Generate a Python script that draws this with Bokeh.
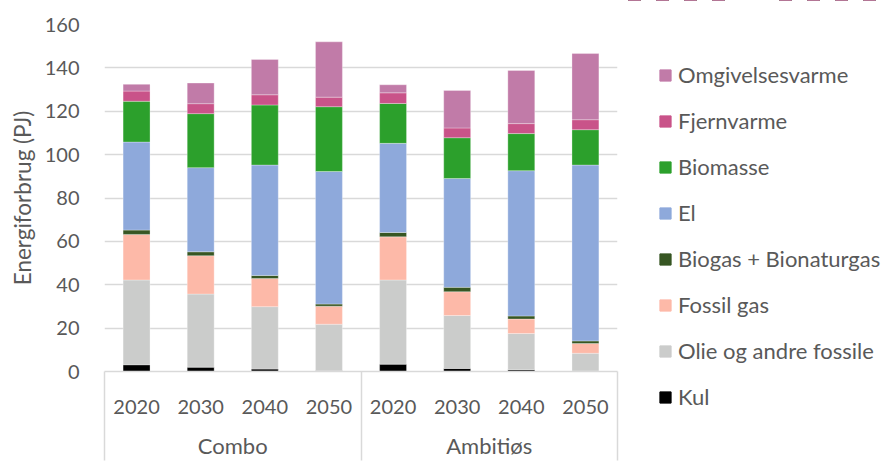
from bokeh.plotting import figure
from bokeh.layouts import row
from bokeh.models import (FactorRange, Range1d, Legend, LegendItem, FixedTicker,
                          ColumnDataSource, LinearAxis)
from bokeh.embed import file_html
from bokeh.resources import INLINE

# Scenarios and years on the category axis
groups = ["Combo", "Ambitiøs"]
years = ["2020", "2030", "2040", "2050"]

# Energy use per carrier (PJ), order: Combo 2020..2050, Ambitiøs 2020..2050
kul = [3.1, 2.0, 1.1, 0.3, 3.4, 1.4, 0.8, 0.2]
olie = [39.1, 33.7, 28.8, 21.5, 38.8, 24.4, 16.7, 8.2]
fossil_gas = [21.0, 17.7, 13.0, 8.3, 19.9, 11.0, 6.7, 4.5]
biogas = [2.0, 1.8, 1.4, 1.0, 2.0, 2.0, 1.4, 1.2]
el = [40.6, 38.8, 50.9, 61.1, 41.1, 50.2, 67.0, 81.1]
biomasse = [18.8, 24.9, 27.7, 29.9, 18.4, 18.8, 17.1, 16.3]
fjernvarme = [4.7, 4.6, 4.7, 4.4, 4.9, 4.5, 4.6, 4.6]
omgivelsesvarme = [3.1, 9.5, 16.3, 25.5, 3.7, 17.3, 24.5, 30.5]

series_names = ["Kul", "Olie og andre fossile", "Fossil gas", "Biogas + Bionaturgas",
                "El", "Biomasse", "Fjernvarme", "Omgivelsesvarme"]
series_values = [kul, olie, fossil_gas, biogas, el, biomasse, fjernvarme, omgivelsesvarme]
colors = ["#000000", "#CBCCCB", "#FDB9A8", "#375623",
          "#8EA9DB", "#2CA02C", "#C95389", "#C17BA8"]

y_ticks = [0, 20, 40, 60, 80, 100, 120, 140, 160]

FONT = "Lato"
TEXT = "#595959"
GRID = "#D9D9D9"

factors = [(g, y) for g in groups for y in years]
n_slots = len(factors)
n_years = len(years)

# one unit-wide slot per (scenario, year); bars sit in the slot centres
centers = [i + 0.5 for i in range(n_slots)]
group_centers = [k * n_years + n_years / 2 for k in range(len(groups))]
borders = [k * n_years for k in range(len(groups) + 1)]

keys = [f"s{i}" for i in range(len(series_names))]
data = {"x": centers, "cat": factors}
for k, v in zip(keys, series_values):
    data[k] = v
source = ColumnDataSource(data)

# ---- stacked bar chart ----
p = figure(
    width=620, height=461,
    x_range=Range1d(0, n_slots),
    y_range=(0, 160),
    x_axis_location=None,
    output_backend="svg", toolbar_location=None,
    min_border_left=104, min_border_right=3, min_border_top=24, min_border_bottom=89,
    outline_line_color=None,
)

p.vbar_stack(keys, x="x", width=0.42, source=source, color=colors,
             line_color="white", line_width=0.6, line_alpha=0.5)

# y axis
p.yaxis.ticker = FixedTicker(ticks=y_ticks)
p.yaxis.axis_line_color = None
p.yaxis.major_tick_line_color = None
p.yaxis.minor_tick_line_color = None
p.yaxis.major_label_text_font = FONT
p.yaxis.major_label_text_font_size = "20px"
p.yaxis.major_label_text_color = TEXT
p.yaxis.major_label_standoff = 19
p.yaxis.axis_label = "Energiforbrug (PJ)"
p.yaxis.axis_label_text_font = FONT
p.yaxis.axis_label_text_font_size = "22.5px"
p.yaxis.axis_label_text_font_style = "normal"
p.yaxis.axis_label_text_color = TEXT
p.yaxis.axis_label_standoff = 6

p.ygrid.grid_line_color = GRID
p.ygrid.grid_line_width = 1.5
p.xgrid.grid_line_color = None

# year labels under each bar; scenario borders drawn as long minor ticks
# (negative tick_in points them outward without enlarging the axis panel)
year_axis = LinearAxis(
    ticker=FixedTicker(ticks=centers, minor_ticks=borders),
    major_label_overrides={c: f[1] for c, f in zip(centers, factors)},
)
year_axis.axis_line_color = GRID
year_axis.axis_line_width = 1.5
year_axis.major_tick_line_color = None
year_axis.major_tick_out = 0
year_axis.major_tick_in = 0
year_axis.minor_tick_line_color = GRID
year_axis.minor_tick_line_width = 1.5
year_axis.minor_tick_out = 0
year_axis.minor_tick_in = -89
year_axis.major_label_text_font = FONT
year_axis.major_label_text_font_size = "20px"
year_axis.major_label_text_color = TEXT
year_axis.major_label_standoff = 28
p.add_layout(year_axis, "below")

# scenario names centred under their four years
group_axis = LinearAxis(
    ticker=FixedTicker(ticks=group_centers, minor_ticks=[]),
    major_label_overrides={c: g for c, g in zip(group_centers, groups)},
)
group_axis.axis_line_color = None
group_axis.major_tick_line_color = None
group_axis.minor_tick_line_color = None
group_axis.major_tick_out = 0
group_axis.major_tick_in = 0
group_axis.major_label_text_font = FONT
group_axis.major_label_text_font_size = "22px"
group_axis.major_label_text_color = TEXT
group_axis.major_label_standoff = 15
p.add_layout(group_axis, "below")

# ---- legend panel beside the chart ----
lg = figure(width=263, height=461, output_backend="svg", toolbar_location=None,
            x_range=FactorRange(*factors), y_range=Range1d(-2, -1),
            x_axis_location=None, y_axis_location=None,
            min_border=0, outline_line_color=None)
lg.grid.grid_line_color = None
swatches = lg.vbar_stack(keys, x="cat", width=0.42, source=source, color=colors)

# let the legend panel use its full height instead of the chart's frame
if "frame_align" in lg.properties():
    lg.frame_align = False
    legend_location, legend_spacing = (38, 51), 19
else:
    legend_location, legend_spacing = (38, 4), 13

items = [LegendItem(label=n, renderers=[r]) for n, r in zip(series_names, swatches)][::-1]
legend = Legend(items=items, location=legend_location, orientation="vertical",
                glyph_width=14, glyph_height=14, label_height=20, spacing=legend_spacing,
                label_standoff=6, padding=0, margin=0,
                border_line_color=None, background_fill_alpha=0,
                label_text_font=FONT, label_text_font_size="22px",
                label_text_color=TEXT)
lg.add_layout(legend, "center")

layout = row(p, lg, spacing=0)
open("out.html", "w").write(file_html(layout, INLINE))
